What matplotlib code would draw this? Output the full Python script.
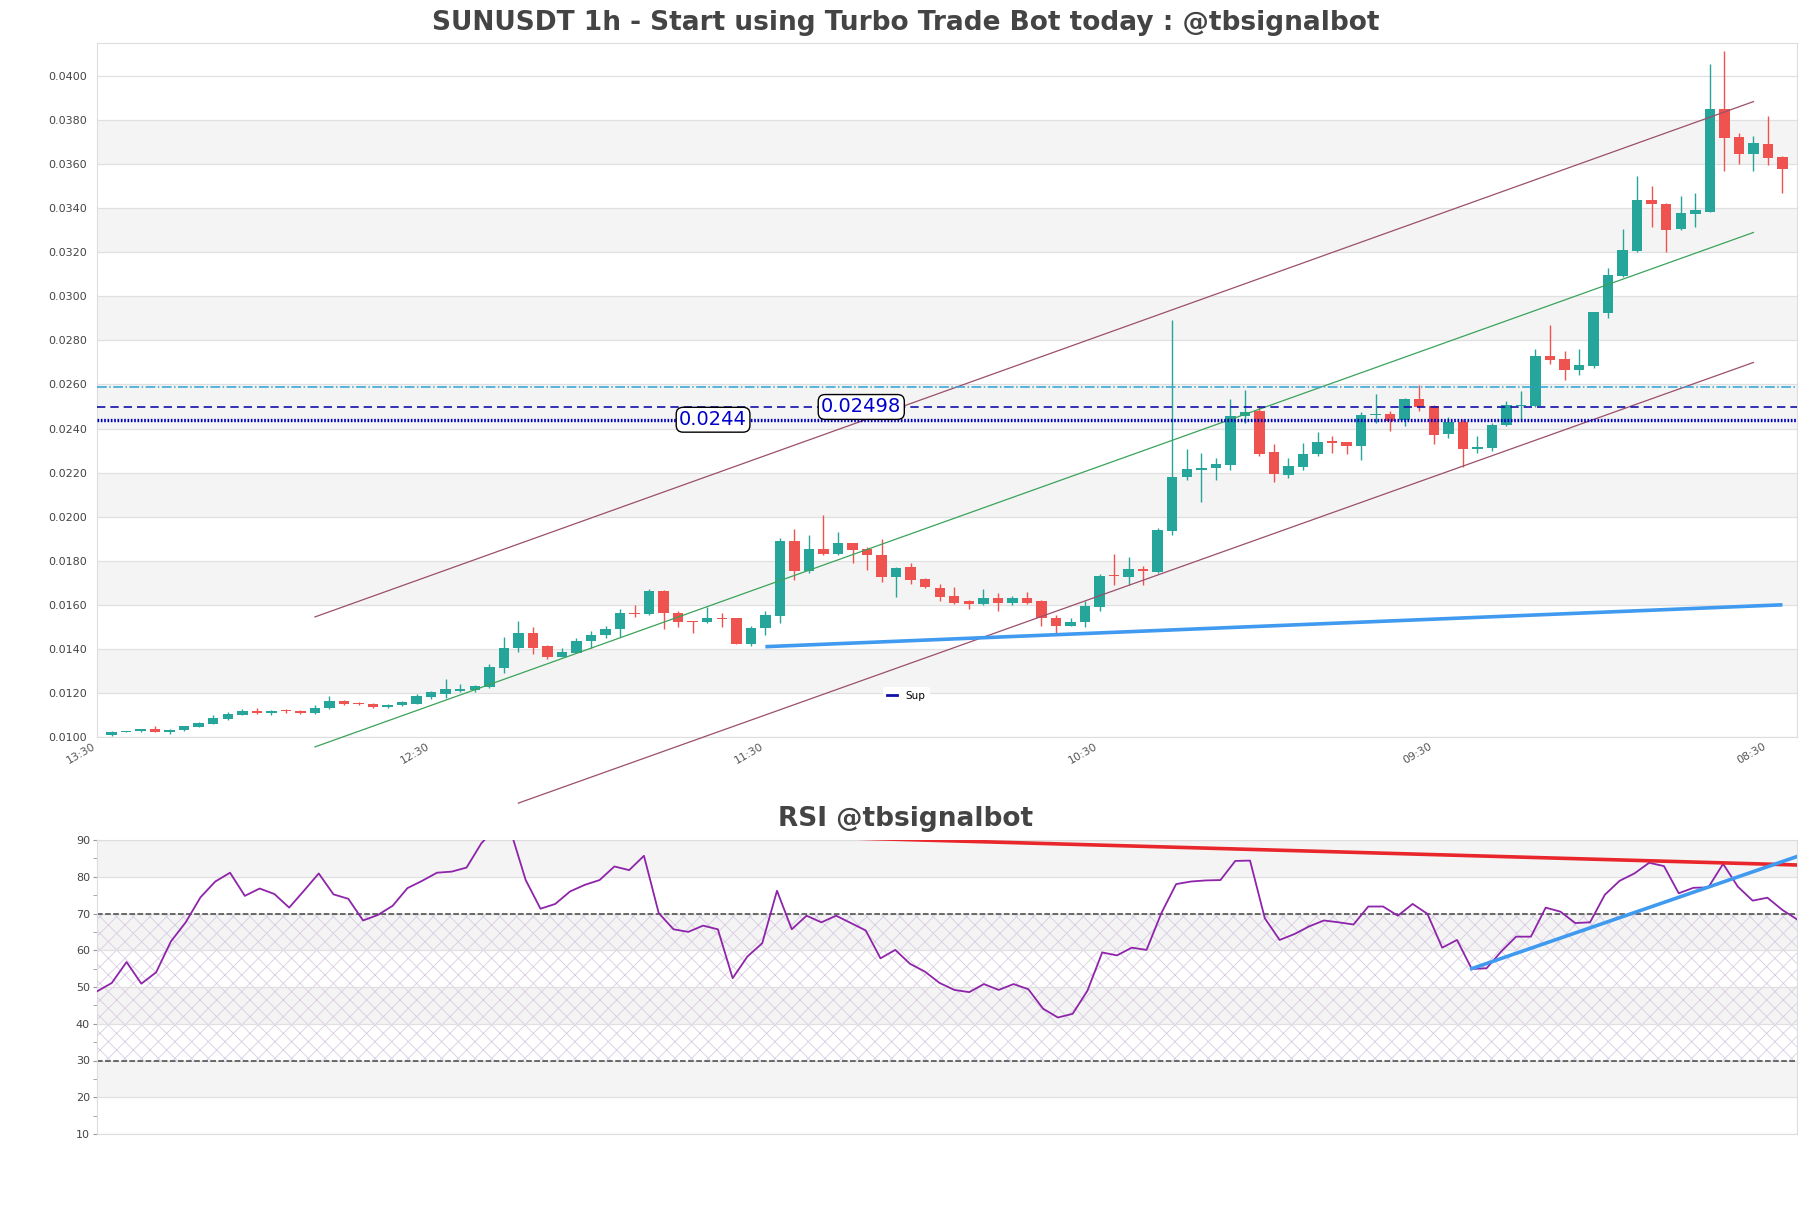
import numpy as np
import matplotlib
matplotlib.use('Agg')
import matplotlib.pyplot as plt
from matplotlib.lines import Line2D
from matplotlib.ticker import MultipleLocator

# bougies 1h (open, high, low, close)
opens = [0.01011, 0.01024, 0.01025, 0.01037, 0.01024, 0.01030, 0.01047, 0.01060, 0.01082, 0.01100,
         0.01120, 0.01107, 0.01119, 0.01120, 0.01107, 0.01130, 0.01165, 0.01152, 0.01151, 0.01136,
         0.01144, 0.01152, 0.01180, 0.01197, 0.01211, 0.01215, 0.01226, 0.01311, 0.01403, 0.01470,
         0.01411, 0.01365, 0.01383, 0.01435, 0.01462, 0.01489, 0.01565, 0.01558, 0.01661, 0.01564,
         0.01524, 0.01521, 0.01542, 0.01538, 0.01424, 0.01494, 0.01548, 0.01888, 0.01753, 0.01855,
         0.01830, 0.01879, 0.01852, 0.01827, 0.01726, 0.01773, 0.01715, 0.01677, 0.01639, 0.01617,
         0.01603, 0.01629, 0.01606, 0.01633, 0.01617, 0.01542, 0.01506, 0.01521, 0.01590, 0.01735,
         0.01726, 0.01761, 0.01748, 0.01935, 0.02180, 0.02212, 0.02220, 0.02233, 0.02459, 0.02478,
         0.02292, 0.02188, 0.02226, 0.02283, 0.02343, 0.02337, 0.02323, 0.02460, 0.02468, 0.02438,
         0.02535, 0.02501, 0.02377, 0.02432, 0.02305, 0.02313, 0.02415, 0.02502, 0.02503, 0.02729,
         0.02715, 0.02667, 0.02685, 0.02924, 0.03094, 0.03206, 0.03436, 0.03420, 0.03306, 0.03376,
         0.03385, 0.03852, 0.03724, 0.03648, 0.03692, 0.03633]
highs = [0.01025, 0.01028, 0.01038, 0.01050, 0.01035, 0.01051, 0.01066, 0.01100, 0.01113, 0.01125,
         0.01131, 0.01122, 0.01128, 0.01122, 0.01147, 0.01188, 0.01167, 0.01160, 0.01153, 0.01150,
         0.01162, 0.01195, 0.01208, 0.01261, 0.01242, 0.01234, 0.01332, 0.01453, 0.01526, 0.01498,
         0.01418, 0.01403, 0.01450, 0.01483, 0.01503, 0.01582, 0.01601, 0.01670, 0.01666, 0.01570,
         0.01526, 0.01591, 0.01561, 0.01541, 0.01502, 0.01573, 0.01905, 0.01942, 0.01915, 0.02006,
         0.01932, 0.01882, 0.01862, 0.01900, 0.01772, 0.01788, 0.01723, 0.01695, 0.01679, 0.01620,
         0.01670, 0.01652, 0.01642, 0.01659, 0.01620, 0.01552, 0.01541, 0.01617, 0.01738, 0.01829,
         0.01817, 0.01776, 0.01950, 0.02892, 0.02306, 0.02291, 0.02265, 0.02535, 0.02576, 0.02501,
         0.02331, 0.02265, 0.02335, 0.02383, 0.02365, 0.02341, 0.02475, 0.02558, 0.02481, 0.02540,
         0.02598, 0.02505, 0.02453, 0.02444, 0.02368, 0.02426, 0.02526, 0.02571, 0.02760, 0.02870,
         0.02750, 0.02760, 0.02930, 0.03127, 0.03306, 0.03548, 0.03502, 0.03425, 0.03456, 0.03470,
         0.04056, 0.04115, 0.03741, 0.03729, 0.03818, 0.03636]
lows = [0.01006, 0.01022, 0.01022, 0.01023, 0.01015, 0.01028, 0.01045, 0.01058, 0.01078, 0.01098,
        0.01106, 0.01098, 0.01110, 0.01105, 0.01105, 0.01128, 0.01145, 0.01146, 0.01130, 0.01133,
        0.01140, 0.01150, 0.01173, 0.01176, 0.01203, 0.01205, 0.01224, 0.01291, 0.01386, 0.01376,
        0.01355, 0.01362, 0.01380, 0.01403, 0.01450, 0.01453, 0.01545, 0.01555, 0.01491, 0.01498,
        0.01473, 0.01518, 0.01500, 0.01420, 0.01412, 0.01462, 0.01518, 0.01712, 0.01745, 0.01824,
        0.01828, 0.01791, 0.01758, 0.01705, 0.01635, 0.01695, 0.01676, 0.01617, 0.01605, 0.01579,
        0.01600, 0.01570, 0.01597, 0.01602, 0.01503, 0.01468, 0.01503, 0.01499, 0.01570, 0.01688,
        0.01688, 0.01692, 0.01745, 0.01917, 0.02165, 0.02067, 0.02165, 0.02212, 0.02426, 0.02275,
        0.02158, 0.02177, 0.02212, 0.02275, 0.02290, 0.02283, 0.02257, 0.02426, 0.02388, 0.02410,
        0.02478, 0.02332, 0.02355, 0.02227, 0.02290, 0.02298, 0.02412, 0.02442, 0.02500, 0.02692,
        0.02621, 0.02645, 0.02673, 0.02900, 0.03090, 0.03200, 0.03314, 0.03200, 0.03300, 0.03317,
        0.03382, 0.03571, 0.03602, 0.03571, 0.03598, 0.03471]
closes = [0.01023, 0.01027, 0.01037, 0.01024, 0.01034, 0.01050, 0.01064, 0.01085, 0.01105, 0.01120,
          0.01107, 0.01120, 0.01117, 0.01107, 0.01133, 0.01165, 0.01148, 0.01150, 0.01134, 0.01147,
          0.01158, 0.01185, 0.01203, 0.01220, 0.01218, 0.01230, 0.01317, 0.01406, 0.01470, 0.01406,
          0.01365, 0.01388, 0.01438, 0.01465, 0.01492, 0.01565, 0.01559, 0.01661, 0.01562, 0.01521,
          0.01522, 0.01542, 0.01536, 0.01424, 0.01497, 0.01552, 0.01888, 0.01753, 0.01855, 0.01829,
          0.01879, 0.01848, 0.01826, 0.01726, 0.01768, 0.01714, 0.01680, 0.01635, 0.01609, 0.01602,
          0.01632, 0.01606, 0.01632, 0.01609, 0.01539, 0.01506, 0.01524, 0.01594, 0.01733, 0.01729,
          0.01762, 0.01753, 0.01939, 0.02182, 0.02215, 0.02223, 0.02239, 0.02459, 0.02475, 0.02283,
          0.02195, 0.02229, 0.02286, 0.02341, 0.02335, 0.02323, 0.02463, 0.02468, 0.02436, 0.02535,
          0.02498, 0.02373, 0.02432, 0.02305, 0.02317, 0.02414, 0.02506, 0.02506, 0.02729, 0.02712,
          0.02667, 0.02688, 0.02927, 0.03095, 0.03210, 0.03436, 0.03417, 0.03303, 0.03379, 0.03391,
          0.03852, 0.03721, 0.03648, 0.03697, 0.03630, 0.03576]

rsi = [48.8, 51.1, 56.8, 50.9, 54.0, 62.4, 67.6, 74.4, 78.7, 81.1,
       74.8, 76.8, 75.3, 71.6, 76.2, 80.9, 75.2, 74.0, 68.1, 69.6,
       72.1, 76.9, 78.9, 81.1, 81.4, 82.5, 89.1, 93.4, 92.2, 79.1,
       71.3, 72.6, 76.0, 77.8, 79.1, 82.8, 81.8, 85.7, 70.1, 65.7,
       65.0, 66.7, 65.7, 52.4, 58.3, 61.9, 76.2, 65.7, 69.4, 67.6,
       69.4, 67.4, 65.4, 57.8, 60.1, 56.3, 54.2, 51.1, 49.2, 48.6,
       50.8, 49.2, 50.8, 49.4, 44.1, 41.7, 42.7, 49.0, 59.4, 58.6,
       60.7, 60.1, 70.1, 78.0, 78.7, 79.0, 79.1, 84.3, 84.4, 68.7,
       62.8, 64.4, 66.5, 68.1, 67.6, 67.0, 71.9, 71.9, 69.4, 72.6,
       69.9, 60.7, 62.8, 54.9, 55.1, 59.7, 63.7, 63.7, 71.6, 70.5,
       67.4, 67.6, 75.1, 78.9, 80.9, 83.8, 82.9, 75.5, 77.0, 77.1,
       83.5, 77.3, 73.5, 74.3, 71.0, 68.4]

tick_pos = [-1, 22, 45, 68, 91, 114]
tick_labels = ['13:30', '12:30', '11:30', '10:30', '09:30', '08:30']

# canal de tendance
chan_x = [14, 113]
chan_haut = [0.01545, 0.03884]
chan_milieu = [0.00955, 0.03290]
chan_bas_x = [28, 113]
chan_bas = [0.00700, 0.02700]

# support bleu
sup_x = [45, 115]
sup_y = [0.0141, 0.0160]

# niveaux horizontaux
niveau_cyan = 0.0259
niveau_tirets = 0.02498
niveau_points = 0.0244

# lignes sur le RSI
rsi_rouge_x = [27, 115]
rsi_rouge_y = [93.3, 83.2]
rsi_bleu_x = [93, 115]
rsi_bleu_y = [55.0, 85.5]

vert = '#26a69a'
rouge = '#ef5350'
gris_bande = '#f4f4f4'
gris_grille = '#e0e0e0'
gris_texte = '#444444'

W, H = 1811, 1208
fig = plt.figure(figsize=(W / 100, H / 100), dpi=100)

# ---- graphique principal ----
ax = fig.add_axes([97 / W, 1 - 737 / H, 1700 / W, 694 / H])
ax.set_xlim(-1, 116)
ax.set_ylim(0.0100, 0.0415)
for lo in np.arange(0.012, 0.040, 0.004):
    ax.axhspan(lo, lo + 0.002, color=gris_bande, zorder=0, lw=0)
ax.set_yticks(np.arange(0.010, 0.0401, 0.002))
ax.yaxis.set_major_formatter(matplotlib.ticker.FormatStrFormatter('%.4f'))
ax.yaxis.grid(True, color=gris_grille, lw=0.9)
ax.set_axisbelow(True)

x = np.arange(len(opens))
o = np.array(opens)
c = np.array(closes)
couleurs = [vert if cc >= oo else rouge for oo, cc in zip(o, c)]
ax.vlines(x, lows, highs, colors=couleurs, lw=1.0, zorder=2)
hauteur = np.maximum(np.abs(c - o), 0.00004)
ax.bar(x, hauteur, bottom=np.minimum(o, c), width=0.72, color=couleurs, zorder=3)

ax.plot(chan_x, chan_haut, color='#9b4f6b', lw=0.9, zorder=4, clip_on=False)
ax.plot(chan_x, chan_milieu, color='#3aa35a', lw=0.9, zorder=4, clip_on=False)
ax.plot(chan_bas_x, chan_bas, color='#9b4f6b', lw=0.9, zorder=4, clip_on=False)
ax.plot(sup_x, sup_y, color='#3f9af0', lw=2.6, zorder=4, solid_capstyle='butt')

ax.axhline(niveau_cyan, color='#2ea3d4', lw=1.1, ls='-.', zorder=4)
ax.axhline(niveau_tirets, color='#1010a8', lw=1.2, dashes=(5, 3), zorder=4)
ax.axhline(niveau_points, color='#0000c0', lw=2.4, dashes=(0.5, 0.5),
           dash_capstyle='butt', zorder=4)

boite = dict(boxstyle='round,pad=0.15,rounding_size=0.35', fc='white', ec='black', lw=1)
ax.text(41.4, niveau_points, '0.0244', fontsize=14, color='#0000cc',
        ha='center', va='center', bbox=boite, zorder=6)
ax.text(51.6, niveau_tirets, '0.02498', fontsize=14, color='#0000cc',
        ha='center', va='center', bbox=boite, zorder=6)

leg = ax.legend(handles=[Line2D([], [], color='#1010a8', lw=2)], labels=['Sup'],
                loc='center', bbox_to_anchor=(0.476, 0.059), fontsize=7.5,
                handlelength=1.0, frameon=True, framealpha=1, edgecolor='none')
leg.set_zorder(7)

ax.set_xticks(tick_pos)
ax.set_xticklabels(tick_labels, rotation=30, ha='right', fontsize=8, color='#555555')
ax.tick_params(axis='x', length=0, pad=3)
ax.tick_params(axis='y', length=0, pad=7, labelsize=8, labelcolor=gris_texte)
for s in ax.spines.values():
    s.set_color('#dddddd')

fig.text(0.5, 1 - 23 / H, 'SUNUSDT 1h - Start using Turbo Trade Bot today : @tbsignalbot',
         ha='center', va='center', fontsize=19, fontweight='bold', color=gris_texte)

# ---- RSI ----
plt.rcParams['hatch.linewidth'] = 0.6
ax2 = fig.add_axes([97 / W, 1 - 1134 / H, 1700 / W, 294 / H])
ax2.set_xlim(0, len(rsi) - 1)
ax2.set_ylim(10, 90)
for lo in (20, 40, 60, 80):
    ax2.axhspan(lo, lo + 10, color=gris_bande, zorder=0, lw=0)
ax2.fill_between([0, len(rsi) - 1], 30, 70, facecolor='none', edgecolor='#d8cce2',
                 hatch='xx', lw=0, zorder=0.5)
ax2.yaxis.grid(True, color=gris_grille, lw=0.9)
ax2.set_axisbelow(True)
ax2.axhline(70, color='#444444', lw=1.1, ls='--', zorder=2)
ax2.axhline(30, color='#444444', lw=1.1, ls='--', zorder=2)
ax2.plot(np.arange(len(rsi)), rsi, color='#8e24aa', lw=1.3, zorder=3)
ax2.plot(rsi_rouge_x, rsi_rouge_y, color='#e8262b', lw=2.6, zorder=4)
ax2.plot(rsi_bleu_x, rsi_bleu_y, color='#3f9af0', lw=2.6, zorder=4)

ax2.set_yticks(range(10, 91, 10))
ax2.yaxis.set_minor_locator(MultipleLocator(5))
ax2.set_xticks([])
ax2.tick_params(axis='y', which='both', length=3, color='#999999', pad=2,
                labelsize=8, labelcolor=gris_texte)
for s in ax2.spines.values():
    s.set_color('#dddddd')

fig.text(0.5, 1 - 819 / H, 'RSI @tbsignalbot', ha='center', va='center',
         fontsize=19, fontweight='bold', color=gris_texte)

fig.savefig('out.png', dpi=100)
